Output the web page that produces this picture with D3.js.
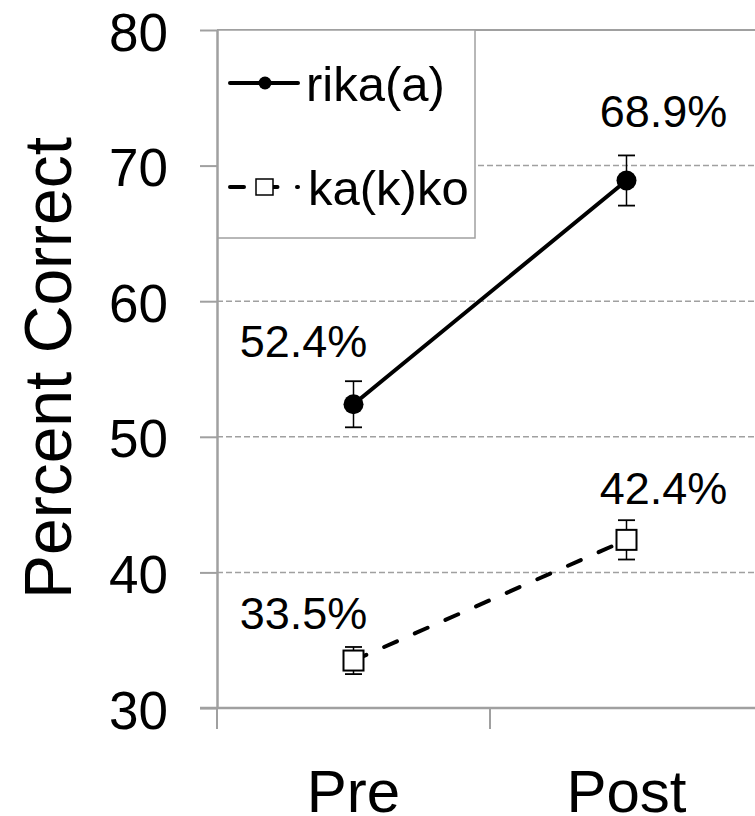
<!DOCTYPE html>
<html>
<head>
<meta charset="utf-8">
<script src="https://cdn.jsdelivr.net/npm/d3@7"></script>
<style>
  html, body { margin: 0; padding: 0; background: #fff; }
  svg { display: block; font-family: "Liberation Sans", Arial, sans-serif; }
</style>
</head>
<body>
<svg id="chart" width="755" height="816"></svg>
<script>
// Test phases on the x axis
const phases = ["Pre", "Post"];
// Series names
const seriesNames = ["rika(a)", "ka(k)ko"];
// Mean percent correct per phase
const rikaValues = [52.4, 68.9];
const kakkoValues = [33.5, 42.4];
// Standard error per phase
const rikaErrors = [1.7, 1.85];
const kakkoErrors = [1.0, 1.45];
// Y axis ticks
const yTicks = [30, 40, 50, 60, 70, 80];

const dashPattern = "14,19.5";
const series = [
  { name: seriesNames[0], values: rikaValues, errors: rikaErrors, marker: "circle", dash: null, labelDy: [-47, -54] },
  { name: seriesNames[1], values: kakkoValues, errors: kakkoErrors, marker: "square", dash: dashPattern, labelDy: [-32, -36] }
];

const svg = d3.select("#chart");
const plotLeft = 217, plotRight = 763, plotTop = 30, plotBottom = 708;

const x = d3.scaleBand().domain(phases).range([plotLeft, plotRight]);
const y = d3.scaleLinear().domain([30, 80]).range([plotBottom, plotTop]);

const gray = "#a0a0a0";

// Horizontal gridlines
svg.append("g").selectAll("line")
  .data(yTicks.filter(t => t > 30))
  .join("line")
  .attr("x1", plotLeft).attr("x2", plotRight)
  .attr("y1", d => y(d)).attr("y2", d => y(d))
  .attr("stroke", gray)
  .attr("stroke-width", d => d === 80 ? 2 : 1.5)
  .attr("stroke-dasharray", d => d === 80 ? null : "6,3");

// Y axis
const yAxis = svg.append("g")
  .attr("transform", `translate(${plotLeft},0)`)
  .call(d3.axisLeft(y).tickValues(yTicks).tickSize(17).tickSizeOuter(0).tickPadding(32));
yAxis.select(".domain").attr("stroke", gray).attr("stroke-width", 2.5);
yAxis.selectAll(".tick line").attr("stroke", gray).attr("stroke-width", 2);
yAxis.selectAll(".tick text")
  .attr("font-size", 53).attr("fill", "#000")
  .attr("font-family", "Liberation Sans, Arial, sans-serif")
  .attr("dy", "0.38em");

// X axis line and boundary ticks between categories
svg.append("line")
  .attr("x1", plotLeft - 17).attr("x2", plotRight)
  .attr("y1", plotBottom).attr("y2", plotBottom)
  .attr("stroke", gray).attr("stroke-width", 2.5);
const bounds = phases.map(p => x(p)).concat([x(phases[phases.length - 1]) + x.bandwidth()]);
svg.append("g").selectAll("line")
  .data(bounds)
  .join("line")
  .attr("x1", d => d).attr("x2", d => d)
  .attr("y1", plotBottom).attr("y2", plotBottom + 21)
  .attr("stroke", gray).attr("stroke-width", 2);

// Category labels
const xAxis = svg.append("g")
  .attr("transform", `translate(0,${plotBottom})`)
  .call(d3.axisBottom(x).tickSize(0).tickPadding(0));
xAxis.select(".domain").remove();
xAxis.selectAll(".tick text")
  .attr("font-size", 60).attr("fill", "#000")
  .attr("font-family", "Liberation Sans, Arial, sans-serif")
  .attr("dy", null)
  .attr("y", 104);

// Y axis title
svg.append("text")
  .attr("transform", `translate(71,368) rotate(-90)`)
  .attr("text-anchor", "middle")
  .attr("font-size", 66)
  .text("Percent Correct");

const cx = p => x(p) + x.bandwidth() / 2;

series.forEach(s => {
  const pts = phases.map((p, i) => ({ p, i, v: s.values[i], e: s.errors[i] }));
  const g = svg.append("g");

  // Connecting line
  g.append("path")
    .datum(pts)
    .attr("d", d3.line().x(d => cx(d.p)).y(d => y(d.v)))
    .attr("fill", "none")
    .attr("stroke", "#000")
    .attr("stroke-width", 4)
    .attr("stroke-linecap", "round")
    .attr("stroke-dasharray", s.dash);

  // Error bars
  const eb = g.selectAll(".eb").data(pts).join("g");
  eb.append("line")
    .attr("x1", d => cx(d.p)).attr("x2", d => cx(d.p))
    .attr("y1", d => y(d.v + d.e)).attr("y2", d => y(d.v - d.e))
    .attr("stroke", "#000").attr("stroke-width", 1.5);
  [1, -1].forEach(sign => {
    eb.append("line")
      .attr("x1", d => cx(d.p) - 8.5).attr("x2", d => cx(d.p) + 8.5)
      .attr("y1", d => y(d.v + sign * d.e)).attr("y2", d => y(d.v + sign * d.e))
      .attr("stroke", "#000").attr("stroke-width", 1.8);
  });

  // Markers
  if (s.marker === "circle") {
    g.selectAll(".m").data(pts).join("circle")
      .attr("cx", d => cx(d.p)).attr("cy", d => y(d.v)).attr("r", 10)
      .attr("fill", "#000");
  } else {
    g.selectAll(".m").data(pts).join("rect")
      .attr("x", d => cx(d.p) - 10).attr("y", d => y(d.v) - 10)
      .attr("width", 20).attr("height", 20)
      .attr("fill", "#fff").attr("stroke", "#000").attr("stroke-width", 2);
  }

  // Value labels
  g.selectAll(".lbl").data(pts).join("text")
    .attr("x", d => cx(d.p) + (d.i === 0 ? -50 : 37))
    .attr("y", d => y(d.v) + s.labelDy[d.i])
    .attr("text-anchor", "middle")
    .attr("font-size", 45)
    .text(d => d.v.toFixed(1) + "%");
});

// Legend
const lg = svg.append("g");
lg.append("rect")
  .attr("x", 218).attr("y", 30).attr("width", 257).attr("height", 208)
  .attr("fill", "#fff").attr("stroke", gray).attr("stroke-width", 1.5);

const row1 = 83, row2 = 187;
lg.append("line").attr("x1", 230).attr("x2", 298).attr("y1", row1).attr("y2", row1)
  .attr("stroke", "#000").attr("stroke-width", 4).attr("stroke-linecap", "round");
lg.append("circle").attr("cx", 265).attr("cy", row1).attr("r", 6.5).attr("fill", "#000");
lg.append("text").attr("x", 306).attr("y", row1).attr("dy", "0.36em")
  .attr("font-size", 49).text(series[0].name);

lg.append("line").attr("x1", 230).attr("x2", 298).attr("y1", row2).attr("y2", row2)
  .attr("stroke", "#000").attr("stroke-width", 4).attr("stroke-linecap", "round")
  .attr("stroke-dasharray", dashPattern);
lg.append("rect").attr("x", 256).attr("y", row2 - 8).attr("width", 17).attr("height", 16)
  .attr("fill", "#fff").attr("stroke", "#000").attr("stroke-width", 1.5);
lg.append("text").attr("x", 308).attr("y", row2).attr("dy", "0.36em")
  .attr("font-size", 49).text(series[1].name);
</script>
</body>
</html>
